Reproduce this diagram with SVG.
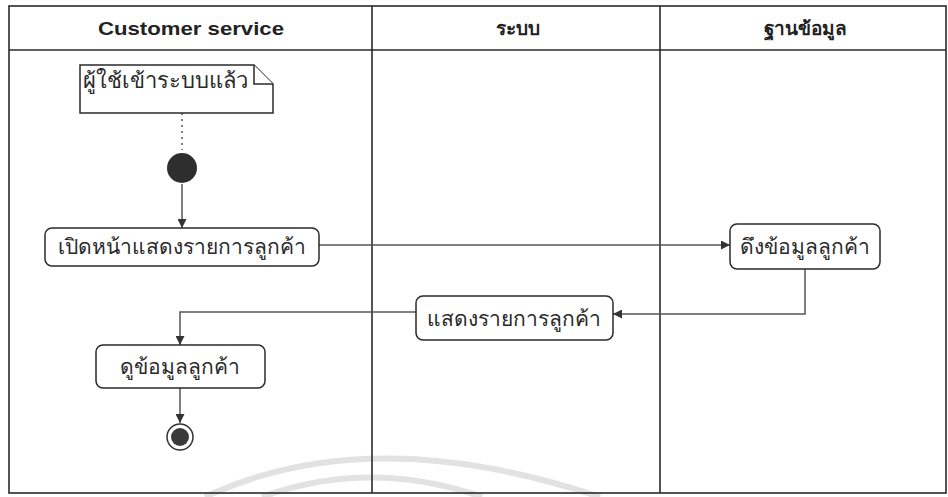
<svg xmlns="http://www.w3.org/2000/svg" width="948" height="497" viewBox="0 0 948 497">
<style>
.frame{fill:none;stroke:#2a2a2a;stroke-width:1.6}
.hdr{font-family:"Liberation Sans",Arial,sans-serif;font-weight:bold;font-size:19px;fill:#222;text-anchor:middle}
.act{fill:#fff;stroke:#2a2a2a;stroke-width:1.5}
.lbl{font-family:"Liberation Sans","Noto Sans",sans-serif;font-size:21px;fill:#2a2a2a;text-anchor:middle}
.note{font-family:"Liberation Sans","Noto Sans",sans-serif;font-size:22px;fill:#2a2a2a;text-anchor:start}
.edge{fill:none;stroke:#555;stroke-width:1.5}
.wm{fill:none;stroke:#e2e2e2;stroke-width:6}
</style>
<defs>
<marker id="ah" viewBox="0 0 10 10" refX="10" refY="5" markerWidth="9" markerHeight="9" markerUnits="userSpaceOnUse" orient="auto">
<path d="M0,0 L10,5 L0,10 z" fill="#333"/>
</marker>
</defs>
<rect width="948" height="497" fill="#fff"/>
<path class="wm" d="M205,497 Q370,420 600,497"/>
<path class="wm" d="M262,497 Q370,458 482,497"/>
<g id="swimlanes">
<rect class="frame" x="9" y="6" width="937" height="487"/>
<line class="frame" x1="9" y1="50" x2="946" y2="50" stroke-width="2.2"/>
<line class="frame" x1="372" y1="6" x2="372" y2="493"/>
<line class="frame" x1="660" y1="6" x2="660" y2="493"/>
<text class="hdr" x="191" y="35" textLength="186" lengthAdjust="spacingAndGlyphs">Customer service</text>
<text class="hdr" x="518" y="35">ระบบ</text>
<text class="hdr" x="805" y="35">ฐานข้อมูล</text>
</g>
<g id="connectors">
<line class="edge" x1="182" y1="113" x2="182" y2="150" stroke-dasharray="2,4"/>
<line class="edge" x1="182" y1="184" x2="182" y2="228" marker-end="url(#ah)"/>
<line class="edge" x1="319" y1="245" x2="730" y2="245" marker-end="url(#ah)"/>
<polyline class="edge" points="805,268 805,314 613,314" marker-end="url(#ah)"/>
<polyline class="edge" points="416,312 180,312 180,345" marker-end="url(#ah)"/>
<line class="edge" x1="180" y1="388" x2="180" y2="423" marker-end="url(#ah)"/>
</g>
<g id="note">
<path class="act" d="M80,65 L254,65 L273,84 L273,113 L80,113 Z"/>
<path class="act" fill="none" d="M254,65 L254,84 L273,84"/>
<text class="note" x="83" y="88">ผู้ใช้เข้าระบบแล้ว</text>
</g>
<g id="start">
<circle cx="182" cy="168" r="15" fill="#2e2e2e"/>
</g>
<g id="open-list">
<rect class="act" x="45" y="228" width="274" height="38" rx="7"/>
<text class="lbl" x="182" y="254" font-size="22">เปิดหน้าแสดงรายการลูกค้า</text>
</g>
<g id="fetch">
<rect class="act" x="730" y="224" width="150" height="45" rx="7"/>
<text class="lbl" x="805" y="254" font-size="20">ดึงข้อมูลลูกค้า</text>
</g>
<g id="show-list">
<rect class="act" x="416" y="296" width="197" height="44" rx="7"/>
<text class="lbl" x="514" y="326" font-size="20">แสดงรายการลูกค้า</text>
</g>
<g id="view">
<rect class="act" x="96" y="345" width="169" height="43" rx="7"/>
<text class="lbl" x="180" y="374">ดูข้อมูลลูกค้า</text>
</g>
<g id="end">
<circle cx="180" cy="437" r="13" fill="#fff" stroke="#333" stroke-width="1.5"/>
<circle cx="180" cy="437" r="9" fill="#3a3a3a"/>
</g>
</svg>
